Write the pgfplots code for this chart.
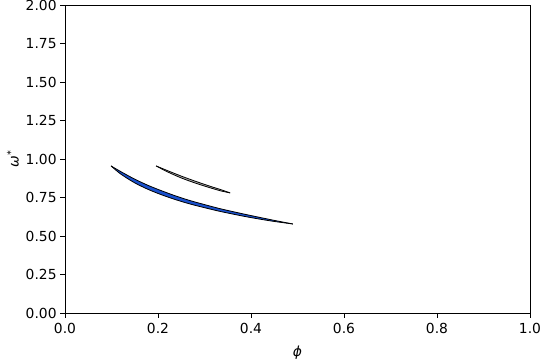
\documentclass[border=0pt]{standalone}
\usepackage{pgfplots}
\usepackage{pgfplotstable}
\pgfplotsset{compat=1.18}
\usepgfplotslibrary{fillbetween}
\usepackage{fontspec}
\setmainfont{DejaVu Sans}
\definecolor{bandblue}{RGB}{25,80,205}
\definecolor{bandgrey}{RGB}{140,140,140}
\pgfplotstableread{
x      lo     hi
0.099  0.955  0.955
0.12   0.902  0.918
0.15   0.845  0.869
0.18   0.801  0.827
0.21   0.765  0.791
0.24   0.734  0.758
0.27   0.707  0.729
0.30   0.684  0.704
0.33   0.662  0.680
0.36   0.643  0.659
0.39   0.625  0.639
0.42   0.609  0.620
0.45   0.5945 0.6015
0.49   0.578  0.578
}\blueband
\pgfplotstableread{
x      lo     hi
0.196  0.955  0.955
0.22   0.917  0.925
0.25   0.877  0.889
0.28   0.844  0.856
0.31   0.815  0.825
0.335  0.793  0.801
0.355  0.780  0.780
}\greyband
\begin{document}
\begin{tikzpicture}
\begin{axis}[
  scale only axis,
  width=465bp, height=308bp,
  xmin=0, xmax=1, ymin=0, ymax=2,
  xtick={0,0.2,0.4,0.6,0.8,1.0},
  ytick={0,0.25,0.5,0.75,1.0,1.25,1.5,1.75,2.0},
  xticklabel style={yshift=-2bp, /pgf/number format/.cd, fixed, fixed zerofill, precision=1},
  yticklabel style={/pgf/number format/.cd, fixed, fixed zerofill, precision=2},
  /pgf/number format/assume math mode=true,
  tick align=outside,
  major tick length=4.9bp,
  xtick pos=bottom, ytick pos=left,
  tick style={black, line width=0.8bp},
  axis line style={line width=0.8bp},
  ticklabel style={font=\fontsize{13.9}{16}\selectfont},
  xlabel={\textit{ϕ}},
  ylabel={\textit{ω}\raisebox{0.6ex}{\fontsize{9.7}{10}\selectfont *}},
  label style={font=\fontsize{13.9}{16}\selectfont},
  xlabel style={yshift=-5bp},
  ylabel style={yshift=0pt},
]
\addplot[draw=none, smooth, name path=bu] table[x=x,y=hi] {\blueband};
\addplot[draw=none, smooth, name path=bl] table[x=x,y=lo] {\blueband};
\addplot[fill=bandblue, draw=none] fill between[of=bu and bl];
\addplot[black, line width=0.8bp, smooth] table[x=x,y=hi] {\blueband};
\addplot[black, line width=0.8bp, smooth] table[x=x,y=lo] {\blueband};
\addplot[draw=none, smooth, name path=gu] table[x=x,y=hi] {\greyband};
\addplot[draw=none, smooth, name path=gl] table[x=x,y=lo] {\greyband};
\addplot[fill=bandgrey!70, draw=none] fill between[of=gu and gl];
\addplot[black, line width=0.8bp, smooth] table[x=x,y=hi] {\greyband};
\addplot[black, line width=0.8bp, smooth] table[x=x,y=lo] {\greyband};
\end{axis}
\pgfresetboundingbox
\path ([xshift=-65bp,yshift=-47bp]current axis.south west) rectangle ([xshift=10bp,yshift=5bp]current axis.north east);
\end{tikzpicture}
\end{document}
